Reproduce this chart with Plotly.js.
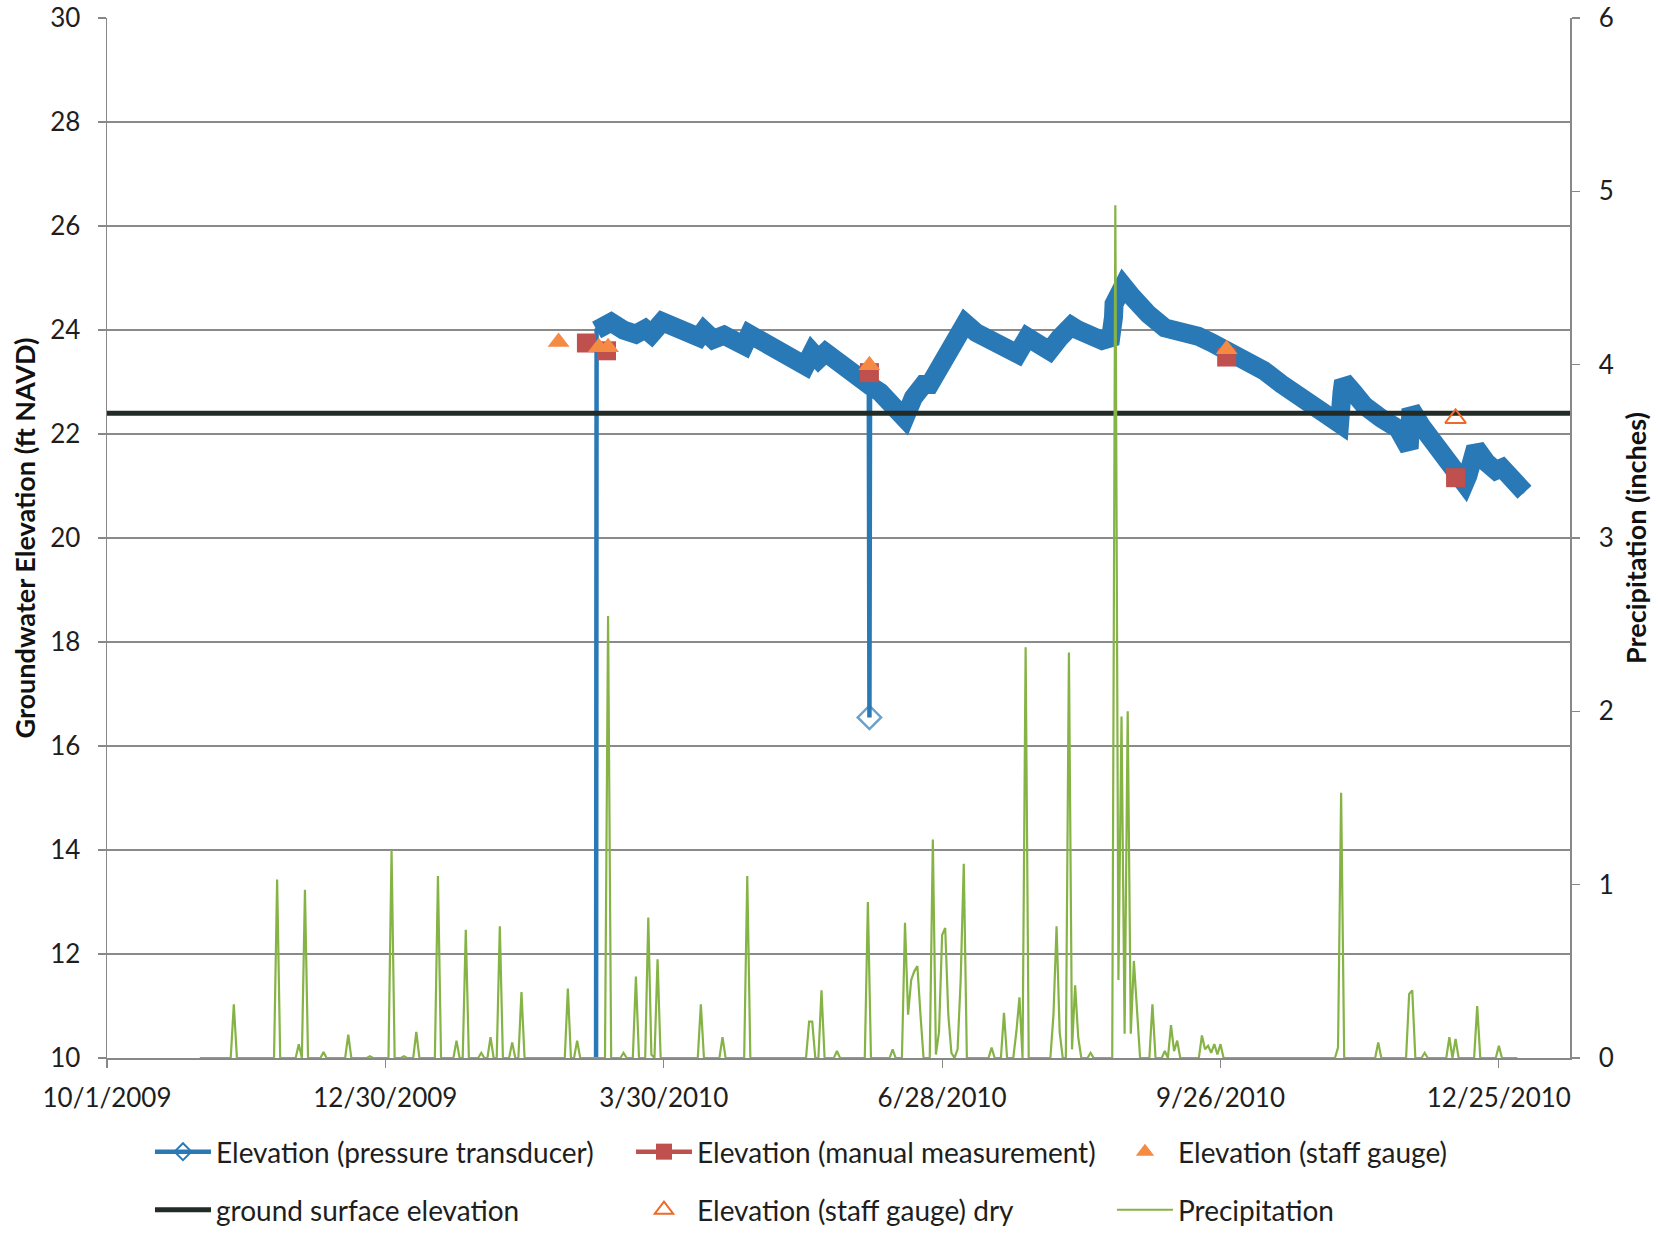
<!DOCTYPE html>
<html>
<head>
<meta charset="utf-8">
<script src="https://cdn.plot.ly/plotly-3.0.1.min.js"></script>
<style>html,body{margin:0;padding:0;background:#fff;}#chart{width:1659px;height:1236px;}</style>
</head>
<body>
<div id="chart"></div>
<script>
// ---------- Data ----------
const transducerDates = [
 '2010-03-08 00:00','2010-03-08 07:00','2010-03-10','2010-03-13','2010-03-17','2010-03-21','2010-03-24','2010-03-26',
 '2010-03-29 12:00','2010-04-02','2010-04-06','2010-04-10 10:00','2010-04-12','2010-04-15','2010-04-18 12:00','2010-04-22',
 '2010-04-25','2010-04-26 17:00','2010-05-01','2010-05-06','2010-05-11','2010-05-14 19:00','2010-05-17','2010-05-19',
 '2010-05-21 07:00','2010-05-25','2010-05-29','2010-06-02','2010-06-04 07:00','2010-06-04 12:00','2010-06-04 17:00','2010-06-08',
 '2010-06-12','2010-06-15 22:00','2010-06-18 17:00','2010-06-22','2010-06-24','2010-06-26','2010-06-30 14:00','2010-07-05 12:00',
 '2010-07-09','2010-07-14','2010-07-18','2010-07-22 10:00','2010-07-25 14:00','2010-07-28','2010-08-01 17:00','2010-08-05',
 '2010-08-08 19:00','2010-08-11','2010-08-15','2010-08-18 17:00','2010-08-21 12:00','2010-08-22 05:00','2010-08-22 10:00','2010-08-22 14:00',
 '2010-08-23 12:00','2010-08-25 14:00','2010-08-28 07:00','2010-08-31','2010-09-02 17:00','2010-09-08','2010-09-12 10:00','2010-09-18 19:00',
 '2010-09-23','2010-09-27 22:00','2010-10-05','2010-10-10','2010-10-15 17:00','2010-10-21','2010-10-26 12:00','2010-10-31',
 '2010-11-03 12:00','2010-11-04 07:00','2010-11-04 19:00','2010-11-08','2010-11-11 14:00','2010-11-17','2010-11-22 10:00','2010-11-26',
 '2010-11-26 14:00','2010-11-30','2010-12-03','2010-12-08 12:00','2010-12-11','2010-12-13 22:00','2010-12-15','2010-12-17 12:00',
 '2010-12-21','2010-12-24','2010-12-26','2010-12-30','2011-01-02 07:00'
];
const transducerElev = [
 0.0, 24.0, 24.1, 24.15, 24.0, 23.92, 24.02, 23.92,
 24.16, 24.05, 23.95, 23.86, 23.99, 23.82, 23.9, 23.78,
 23.7, 23.92, 23.75, 23.58, 23.42, 23.31, 23.57, 23.44,
 23.57, 23.38, 23.2, 23.02, 22.95, 16.55, 22.93, 22.8,
 22.6, 22.3, 22.7, 22.95, 22.95, 23.15, 23.47, 24.13,
 23.95, 23.8, 23.65, 23.54, 23.86, 23.73, 23.6, 23.85,
 24.08, 24.0, 23.88, 23.8, 23.85, 24.0, 24.25, 24.5,
 24.7, 24.85, 24.65, 24.45, 24.3, 24.04, 24.01, 23.88,
 23.76, 23.63, 23.44, 23.22, 22.96, 22.75, 22.54, 22.35,
 22.2, 22.8, 23.02, 22.8, 22.54, 22.3, 22.1, 21.72,
 22.48, 22.15, 21.9, 21.52, 21.35, 21.05, 21.2, 21.74,
 21.45, 21.3, 21.35, 21.05, 20.88
];

const manualDates = ['2010-03-05','2010-03-11 12:00','2010-06-04 12:00','2010-09-28','2010-12-11'];
const manualElev  = [23.75, 23.6, 23.18, 23.48, 21.16];

const staffDates = ['2010-02-24','2010-03-09','2010-03-12','2010-06-04 12:00','2010-09-28'];
const staffElev  = [23.77, 23.67, 23.67, 23.32, 23.63];

const staffDryDates = ['2010-12-11'];
const staffDryElev  = [22.3];

const groundDates = ['2009-10-01','2011-01-17'];
const groundElev  = [22.4, 22.4];

const precipDates = [
 '2009-10-31','2009-11-10','2009-11-11','2009-11-12','2009-11-24','2009-11-25','2009-11-26','2009-12-01','2009-12-02','2009-12-03',
 '2009-12-04','2009-12-05','2009-12-09','2009-12-10','2009-12-11','2009-12-17','2009-12-18','2009-12-19','2009-12-24','2009-12-25',
 '2009-12-26','2009-12-31','2010-01-01','2010-01-02','2010-01-04','2010-01-05','2010-01-06','2010-01-08','2010-01-09','2010-01-10',
 '2010-01-15','2010-01-16','2010-01-17','2010-01-21','2010-01-22','2010-01-23','2010-01-24','2010-01-25','2010-01-26','2010-01-29',
 '2010-01-30','2010-01-31','2010-02-01','2010-02-02','2010-02-03','2010-02-04','2010-02-05','2010-02-06','2010-02-08','2010-02-09',
 '2010-02-10','2010-02-11','2010-02-12','2010-02-13','2010-02-26','2010-02-27','2010-02-28','2010-03-01','2010-03-02','2010-03-03',
 '2010-03-11','2010-03-12','2010-03-13','2010-03-16','2010-03-17','2010-03-18','2010-03-20','2010-03-21','2010-03-22','2010-03-24',
 '2010-03-25','2010-03-26','2010-03-27','2010-03-28','2010-03-29','2010-04-10','2010-04-11','2010-04-12','2010-04-17','2010-04-18',
 '2010-04-19','2010-04-25','2010-04-26','2010-04-27','2010-05-15','2010-05-16','2010-05-17','2010-05-18','2010-05-19','2010-05-20',
 '2010-05-21','2010-05-24','2010-05-25','2010-05-26','2010-06-03','2010-06-04','2010-06-05','2010-06-11','2010-06-12','2010-06-13',
 '2010-06-15','2010-06-16','2010-06-17','2010-06-18','2010-06-19','2010-06-20','2010-06-21','2010-06-22','2010-06-24','2010-06-25',
 '2010-06-26','2010-06-27','2010-06-28','2010-06-29','2010-06-30','2010-07-01','2010-07-02','2010-07-03','2010-07-04','2010-07-05',
 '2010-07-06','2010-07-13','2010-07-14','2010-07-15','2010-07-17','2010-07-18','2010-07-19','2010-07-21','2010-07-22','2010-07-23',
 '2010-07-24','2010-07-25','2010-07-26','2010-08-02','2010-08-03','2010-08-04','2010-08-05','2010-08-06','2010-08-07','2010-08-08',
 '2010-08-09','2010-08-10','2010-08-11','2010-08-12','2010-08-14','2010-08-15','2010-08-16','2010-08-22','2010-08-23','2010-08-24',
 '2010-08-25','2010-08-26','2010-08-27','2010-08-28','2010-08-29','2010-08-30','2010-08-31','2010-09-03','2010-09-04','2010-09-05',
 '2010-09-07','2010-09-08','2010-09-09','2010-09-10','2010-09-11','2010-09-12','2010-09-13','2010-09-19','2010-09-20','2010-09-21',
 '2010-09-22','2010-09-23','2010-09-24','2010-09-25','2010-09-26','2010-09-27','2010-11-02','2010-11-03','2010-11-04','2010-11-05',
 '2010-11-15','2010-11-16','2010-11-17','2010-11-25','2010-11-26','2010-11-27','2010-11-28','2010-11-30','2010-12-01','2010-12-02',
 '2010-12-08','2010-12-09','2010-12-10','2010-12-11','2010-12-12','2010-12-17','2010-12-18','2010-12-19','2010-12-24','2010-12-25',
 '2010-12-26','2010-12-31'
];
const precipInches = [
 0, 0, 0.31, 0, 0, 1.03, 0, 0, 0.08, 0,
 0.97, 0, 0, 0.035, 0, 0, 0.135, 0, 0, 0.01,
 0, 0, 1.20, 0, 0, 0.01, 0, 0, 0.15, 0,
 0, 1.05, 0, 0, 0.10, 0, 0, 0.74, 0, 0,
 0.03, 0, 0, 0.12, 0, 0, 0.76, 0, 0, 0.09,
 0, 0, 0.38, 0, 0, 0.40, 0, 0, 0.10, 0,
 0, 2.55, 0, 0, 0.03, 0, 0, 0.47, 0, 0,
 0.81, 0.02, 0, 0.57, 0, 0, 0.31, 0, 0, 0.12,
 0, 0, 1.05, 0, 0, 0.21, 0.21, 0, 0, 0.39,
 0, 0, 0.04, 0, 0, 0.90, 0, 0, 0.05, 0,
 0, 0.78, 0.25, 0.45, 0.50, 0.53, 0.25, 0, 0, 1.26,
 0.02, 0.15, 0.71, 0.75, 0.25, 0.03, 0, 0.05, 0.45, 1.12,
 0, 0, 0.06, 0, 0, 0.26, 0, 0, 0.15, 0.35,
 0, 2.37, 0, 0, 0.25, 0.76, 0.15, 0, 0, 2.34,
 0.05, 0.42, 0.12, 0, 0, 0.03, 0, 0, 4.92, 0.45,
 1.97, 0.14, 2.00, 0.14, 0.56, 0.30, 0, 0, 0.31, 0,
 0, 0.04, 0, 0.19, 0.04, 0.10, 0, 0, 0.13, 0.05,
 0.07, 0.03, 0.08, 0.02, 0.08, 0, 0, 0.06, 1.53, 0,
 0, 0.09, 0, 0, 0.37, 0.39, 0, 0, 0.03, 0,
 0, 0.12, 0, 0.11, 0, 0, 0.30, 0, 0, 0.07,
 0, 0
];

// ---------- Styles ----------
const BLUE = '#2A79B7';
const RED = '#C0504D';
const ORANGE = '#F58A45';
const DRYORANGE = '#EE6A2A';
const GREEN = '#86B346';
const GROUND = '#222B26';
const FONT = 'Lato, "Open Sans", "DejaVu Sans", sans-serif';

// band: continuous logger record without the isolated bad readings
const bandX = [], bandY = [];
transducerDates.forEach((d, i) => { if (transducerElev[i] > 20) { bandX.push(d); bandY.push(transducerElev[i]); } });
// hollow diamonds are only visible where the record leaves the band
const diamondSizes = transducerElev.map(v => (v > 20 ? 0 : 18));

const traces = [
  { x: bandX, y: bandY, type: 'scatter', mode: 'lines', line: { color: BLUE, width: 19 },
    hoverinfo: 'skip', showlegend: false },
  { x: transducerDates, y: transducerElev, type: 'scatter', mode: 'lines+markers', name: 'Elevation (pressure transducer)',
    line: { color: BLUE, width: 4.5 }, marker: { symbol: 'diamond-open', size: diamondSizes, color: BLUE, line: { width: 2.5, color: BLUE } },
    showlegend: false },
  { x: [null], y: [null], type: 'scatter', mode: 'lines+markers', name: 'Elevation (pressure transducer)',
    line: { color: BLUE, width: 4.5 }, marker: { symbol: 'diamond-open', size: 13, color: BLUE, line: { width: 2, color: BLUE } },
    legend: 'legend' },
  { x: manualDates, y: manualElev, type: 'scatter', mode: 'markers', name: 'Elevation (manual measurement)',
    marker: { symbol: 'square', size: 19, color: RED }, showlegend: false },
  { x: [null], y: [null], type: 'scatter', mode: 'lines+markers', name: 'Elevation (manual measurement)',
    line: { color: RED, width: 4.5 }, marker: { symbol: 'square', size: 17, color: RED }, legend: 'legend' },
  { x: staffDates, y: staffElev, type: 'scatter', mode: 'markers', name: 'Elevation (staff gauge)',
    marker: { symbol: 'triangle-up', size: 19, color: ORANGE }, legend: 'legend' },
  { x: groundDates, y: groundElev, type: 'scatter', mode: 'lines', name: 'ground surface elevation',
    line: { color: GROUND, width: 5 }, legend: 'legend2' },
  { x: staffDryDates, y: staffDryElev, type: 'scatter', mode: 'markers', name: 'Elevation (staff gauge) dry',
    marker: { symbol: 'triangle-up-open', size: 18, color: DRYORANGE, line: { width: 2, color: DRYORANGE } }, legend: 'legend2' },
  { x: precipDates, y: precipInches, type: 'scatter', mode: 'lines', name: 'Precipitation', yaxis: 'y2',
    line: { color: GREEN, width: 2.2 }, legend: 'legend2' }
];

const tickFont = { family: FONT, size: 26, color: '#1e1e1e' };
const titleFont = { family: FONT, size: 27, color: '#111', weight: 'bold' };
const legendFont = { family: FONT, size: 28, color: '#1e1e1e' };

const legendBase = {
  orientation: 'h', xref: 'container', yref: 'container', x: 0.0904, xanchor: 'left', yanchor: 'middle',
  font: legendFont, entrywidth: 410, entrywidthmode: 'pixels', itemwidth: 56,
  bgcolor: 'rgba(0,0,0,0)', traceorder: 'normal'
};

const layout = {
  width: 1659, height: 1236,
  margin: { l: 107, r: 89, t: 18, b: 178, autoexpand: false },
  paper_bgcolor: '#ffffff', plot_bgcolor: '#ffffff',
  font: { family: FONT },
  showlegend: true,
  xaxis: {
    type: 'date', range: ['2009-10-01', '2011-01-17'],
    tick0: '2009-10-01', dtick: 90 * 86400000, tickformat: '%-m/%-d/%Y',
    ticks: 'outside', ticklen: 8, tickcolor: '#888', tickwidth: 1.2,
    showline: true, linecolor: '#888', linewidth: 1.5, showgrid: false, zeroline: false,
    tickfont: tickFont, ticklabelstandoff: 8
  },
  yaxis: {
    range: [10, 30], dtick: 2, tick0: 10,
    showgrid: true, gridcolor: '#8a8a8a', gridwidth: 1.4,
    ticks: 'outside', ticklen: 8, tickcolor: '#888', tickwidth: 1.2,
    showline: true, linecolor: '#888', linewidth: 1.5, zeroline: false,
    tickfont: tickFont, ticklabelstandoff: 12,
    title: { text: 'Groundwater Elevation (ft NAVD)', font: titleFont, standoff: 6 }
  },
  yaxis2: {
    overlaying: 'y', side: 'right', range: [0, 6], dtick: 1, tick0: 0,
    showgrid: false, zeroline: false,
    ticks: 'outside', ticklen: 8, tickcolor: '#888', tickwidth: 1.2,
    showline: true, linecolor: '#888', linewidth: 1.5,
    tickfont: tickFont, ticklabelstandoff: 14,
    title: { text: 'Precipitation (inches)', font: titleFont, standoff: 14 }
  },
  legend: Object.assign({}, legendBase, { y: 0.068 }),
  legend2: Object.assign({}, legendBase, { y: 0.021 })
};

Plotly.newPlot('chart', traces, layout, { staticPlot: true, displayModeBar: false });
</script>
</body>
</html>
